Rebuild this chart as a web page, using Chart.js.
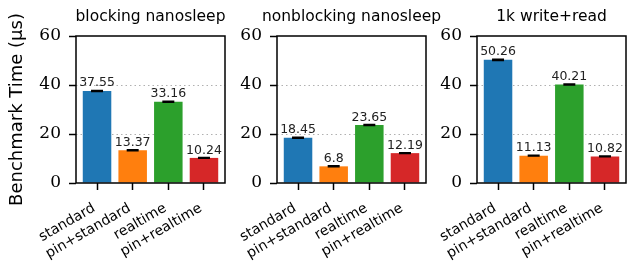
<!DOCTYPE html>
<html>
<head>
<meta charset="utf-8">
<script src="https://cdn.jsdelivr.net/npm/chart.js@4"></script>
<style>
html, body { margin: 0; padding: 0; background: #fff; overflow: hidden; }
#wrap { position: relative; width: 627px; height: 268px; overflow: hidden; }
canvas { position: absolute; top: 0; }
</style>
</head>
<body>
<div id="wrap">
    <canvas id="panel0"></canvas>
    <canvas id="panel1"></canvas>
    <canvas id="panel2"></canvas>
</div>
<script>
// Data
const categories = ['standard', 'pin+standard', 'realtime', 'pin+realtime'];
const panelTitles = ['blocking nanosleep', 'nonblocking nanosleep', '1k write+read'];
const blockingValues = [37.55, 13.37, 33.16, 10.24];
const nonblockingValues = [18.45, 6.8, 23.65, 12.19];
const writeReadValues = [50.26, 11.13, 40.21, 10.82];
const blockingErrors = [0.25, 0.2, 0.2, 0.15];
const nonblockingErrors = [0.2, 0.2, 0.2, 0.15];
const writeReadErrors = [0.3, 0.15, 0.2, 0.15];
const yTicks = [0, 20, 40, 60];
const barColors = ['#1f77b4', '#ff7f0e', '#2ca02c', '#d62728'];

Chart.defaults.font.family = '"DejaVu Sans"';
Chart.defaults.color = '#000';

// error bars, value labels and the frame
const barExtras = {
    id: 'barExtras',
    afterDatasetsDraw(chart) {
        const { ctx, chartArea: a, scales: { x, y } } = chart;
        const errs = chart.options.plugins.barExtras.errors;
        ctx.save();
        chart.data.datasets[0].data.forEach((d, i) => {
            const px = x.getPixelForValue(d.x);
            const hi = y.getPixelForValue(d.y + errs[i]);
            const lo = y.getPixelForValue(d.y - errs[i]);
            ctx.strokeStyle = '#000';
            ctx.lineWidth = 1.5;
            ctx.beginPath();
            ctx.moveTo(px, hi); ctx.lineTo(px, lo);
            ctx.moveTo(px - 6, hi); ctx.lineTo(px + 6, hi);
            ctx.moveTo(px - 6, lo); ctx.lineTo(px + 6, lo);
            ctx.stroke();
            ctx.fillStyle = '#222';
            ctx.font = '12.5px "DejaVu Sans"';
            ctx.textAlign = 'center';
            ctx.textBaseline = 'alphabetic';
            ctx.fillText(String(d.y), px, hi - 4);
        });
        ctx.strokeStyle = '#000';
        ctx.lineWidth = 1.5;
        ctx.strokeRect(a.left, a.top, a.right - a.left, a.bottom - a.top);
        ctx.restore();
    }
};

// each canvas is symmetric round its plot so the title centres over the plot
const panels = [
    { id: 'panel0', left: 0, side: 76, values: blockingValues, errors: blockingErrors, yTitle: true },
    { id: 'panel1', left: 227, side: 50, values: nonblockingValues, errors: nonblockingErrors, yTitle: false },
    { id: 'panel2', left: 427, side: 50, values: writeReadValues, errors: writeReadErrors, yTitle: false }
];
const plotWidth = 149;

panels.forEach((p, n) => {
    const canvas = document.getElementById(p.id);
    const w = p.side * 2 + plotWidth;
    canvas.width = w;
    canvas.height = 268;
    canvas.style.left = p.left + 'px';
    canvas.style.width = w + 'px';
    canvas.style.height = '268px';

    new Chart(canvas, {
        type: 'bar',
        data: {
            datasets: [{
                data: p.values.map((v, i) => ({ x: i, y: v })),
                backgroundColor: barColors,
                borderWidth: 0,
                barPercentage: 0.8,
                categoryPercentage: 1
            }]
        },
        plugins: [barExtras],
        options: {
            responsive: false,
            animation: false,
            devicePixelRatio: 1,
            layout: { padding: 0 },
            plugins: {
                legend: { display: false },
                tooltip: { enabled: false },
                title: {
                    display: true,
                    text: panelTitles[n],
                    color: '#000',
                    font: { size: 15.5, weight: 'normal' },
                    padding: { top: 8, bottom: 9.4 }
                },
                barExtras: { errors: p.errors }
            },
            scales: {
                x: {
                    type: 'linear',
                    min: -0.59,
                    max: 3.59,
                    offset: false,
                    afterFit: s => { s.height = 85; },
                    afterBuildTicks: s => { s.ticks = categories.map((c, i) => ({ value: i })); },
                    border: { display: false },
                    grid: { offset: false, drawOnChartArea: false, tickColor: '#000', tickLength: 7, tickWidth: 1.5 },
                    ticks: {
                        autoSkip: false,
                        minRotation: 30,
                        maxRotation: 30,
                        padding: 10,
                        labelOffset: -3,
                        color: '#000',
                        font: { size: 14 },
                        callback: v => categories[v]
                    }
                },
                y: {
                    min: 0,
                    max: 60,
                    afterFit: s => { s.width = p.side; },
                    afterBuildTicks: s => { s.ticks = yTicks.map(v => ({ value: v })); },
                    border: { display: false, dash: [1.5, 3] },
                    grid: {
                        color: c => (c.tick && (c.tick.value === 0 || c.tick.value === 60)) ? 'rgba(0,0,0,0)' : '#b0b0b0',
                        lineWidth: 1,
                        tickColor: '#000',
                        tickBorderDash: [],
                        tickLength: 7,
                        tickWidth: 1.5
                    },
                    ticks: {
                        padding: 8,
                        color: '#000',
                        font: { family: '"DejaVu Serif"', size: 17 }
                    },
                    title: {
                        display: p.yTitle,
                        text: 'Benchmark Time (μs)',
                        color: '#000',
                        font: { size: 18 },
                        padding: { top: 7, bottom: 0 }
                    }
                },
                // empty right-hand box, same width as the left axis
                yPad: {
                    position: 'right',
                    afterFit: s => { s.width = p.side; },
                    ticks: { display: false },
                    grid: { display: false },
                    border: { display: false }
                }
            }
        }
    });
});
</script>
</body>
</html>
